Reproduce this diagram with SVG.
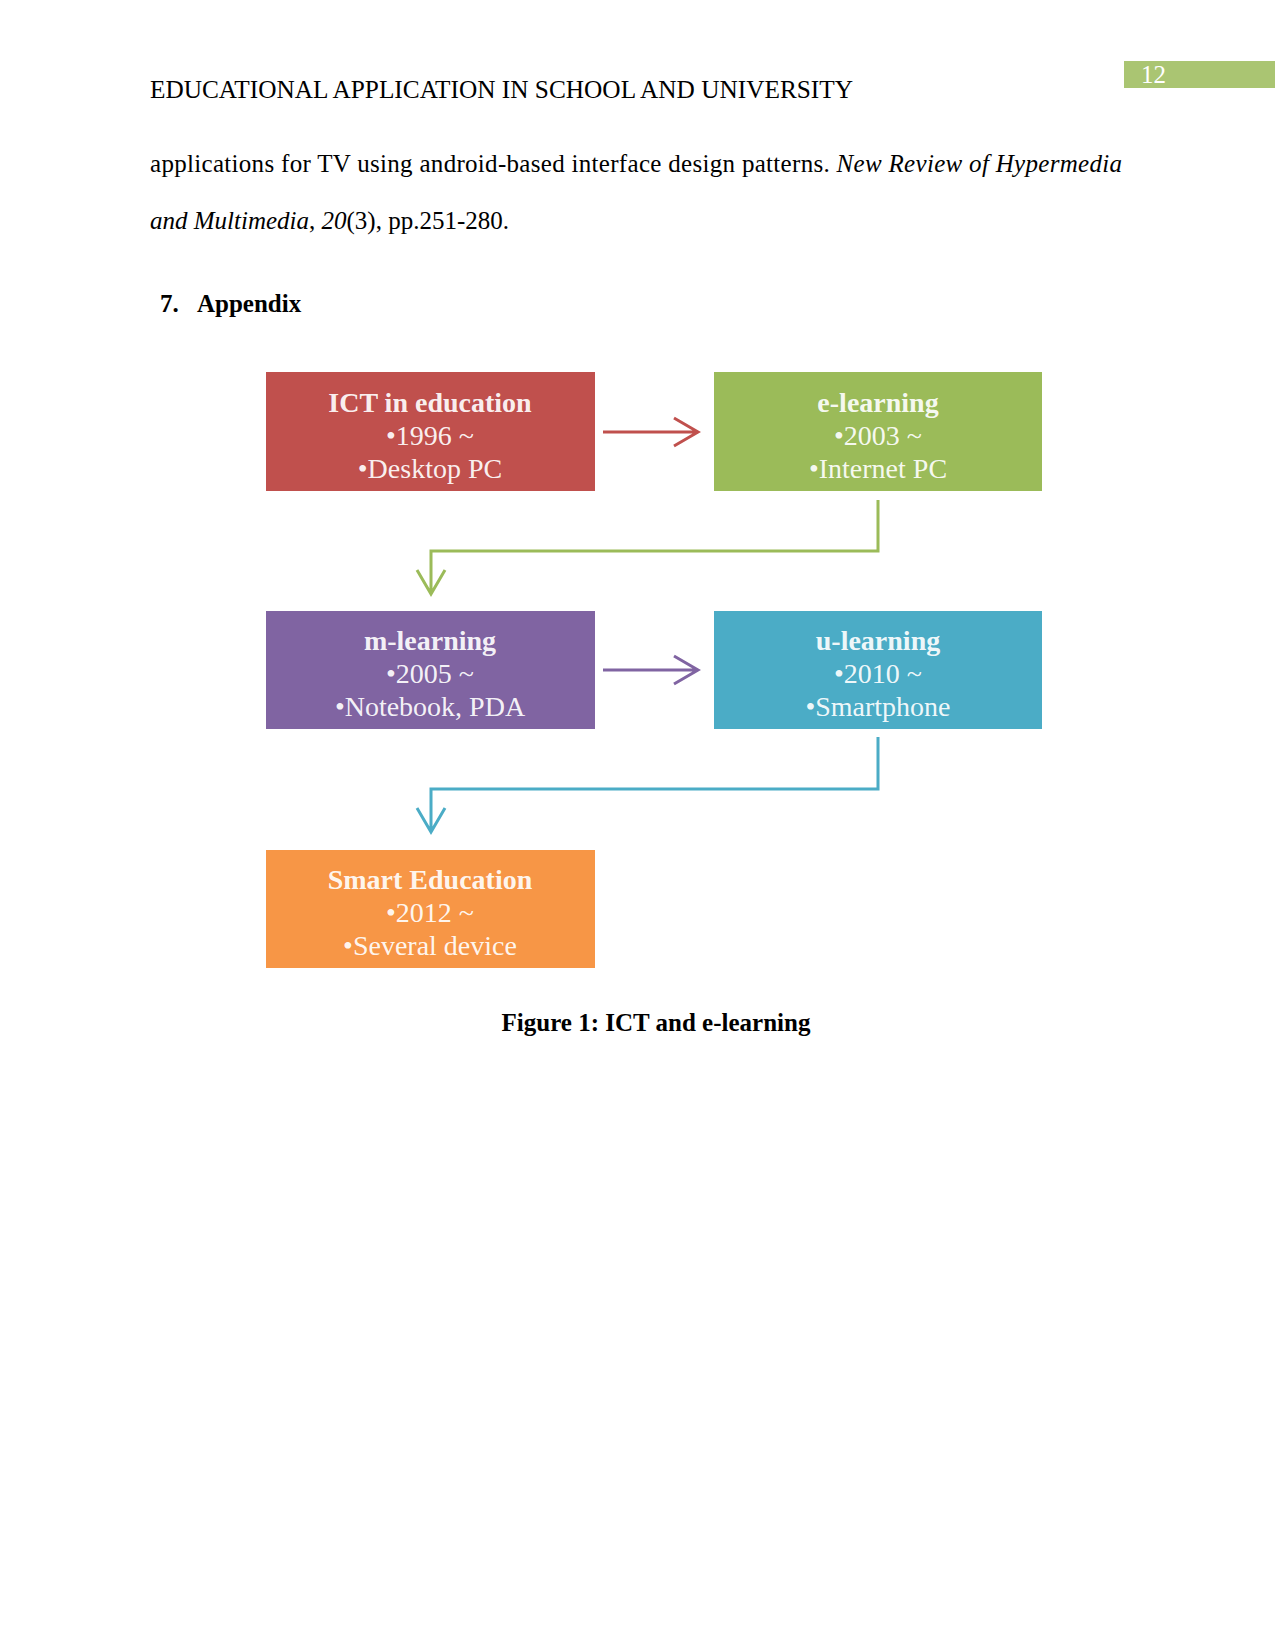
<svg xmlns="http://www.w3.org/2000/svg" width="1275" height="1651" viewBox="0 0 1275 1651">
<style>
.pg{font-family:"Liberation Serif",serif;font-size:25px;fill:#000}
.b{font-weight:bold}
.it{font-style:italic}
.bt{font-family:"Liberation Serif",serif;font-size:28px;fill:#fff;fill-opacity:0.93;text-anchor:middle}
.bt .t{font-weight:bold}
.ln{fill:none;stroke-width:3}
</style>
<rect width="1275" height="1651" fill="#fff"/>
<rect x="1124" y="61" width="151" height="27" fill="#9BBB59" fill-opacity="0.85"/>
<text x="1141" y="83" class="pg" fill="#fff" style="fill:#fff">12</text>
<text x="150" y="98" class="pg" textLength="703" lengthAdjust="spacingAndGlyphs">EDUCATIONAL APPLICATION IN SCHOOL AND UNIVERSITY</text>
<text x="150" y="172" class="pg" textLength="972" lengthAdjust="spacing">applications for TV using android-based interface design patterns. <tspan class="it">New Review of Hypermedia</tspan></text>
<text x="150" y="229" class="pg"><tspan class="it">and Multimedia</tspan>, <tspan class="it">20</tspan>(3), pp.251-280.</text>
<text x="160" y="312" class="pg b">7.</text>
<text x="197" y="312" class="pg b">Appendix</text>

<g id="connectors">
<path class="ln" stroke="#C0504D" d="M603 432H698M674 418L698 432L674 446"/>
<path class="ln" stroke="#9BBB59" d="M878 500V551H431V594M417 570L431 594L445 570"/>
<path class="ln" stroke="#8064A2" d="M603 670H698M674 656L698 670L674 684"/>
<path class="ln" stroke="#4BACC6" d="M878 737V789H431V832M417 808L431 832L445 808"/>
</g>

<g id="ict">
<rect x="266" y="372" width="329" height="119" fill="#C0504D"/>
<text class="bt"><tspan class="t" x="430" y="412">ICT in education</tspan><tspan x="430" y="445">•1996 ~</tspan><tspan x="430" y="478">•Desktop PC</tspan></text>
</g>
<g id="elearning">
<rect x="714" y="372" width="328" height="119" fill="#9BBB59"/>
<text class="bt"><tspan class="t" x="878" y="412">e-learning</tspan><tspan x="878" y="445">•2003 ~</tspan><tspan x="878" y="478">•Internet PC</tspan></text>
</g>
<g id="mlearning">
<rect x="266" y="611" width="329" height="118" fill="#8064A2"/>
<text class="bt"><tspan class="t" x="430" y="650">m-learning</tspan><tspan x="430" y="683">•2005 ~</tspan><tspan x="430" y="716">•Notebook, PDA</tspan></text>
</g>
<g id="ulearning">
<rect x="714" y="611" width="328" height="118" fill="#4BACC6"/>
<text class="bt"><tspan class="t" x="878" y="650">u-learning</tspan><tspan x="878" y="683">•2010 ~</tspan><tspan x="878" y="716">•Smartphone</tspan></text>
</g>
<g id="smart">
<rect x="266" y="850" width="329" height="118" fill="#F79646"/>
<text class="bt"><tspan class="t" x="430" y="889">Smart Education</tspan><tspan x="430" y="922">•2012 ~</tspan><tspan x="430" y="955">•Several device</tspan></text>
</g>

<text x="656" y="1031" class="pg b" text-anchor="middle">Figure 1: ICT and e-learning</text>
</svg>
